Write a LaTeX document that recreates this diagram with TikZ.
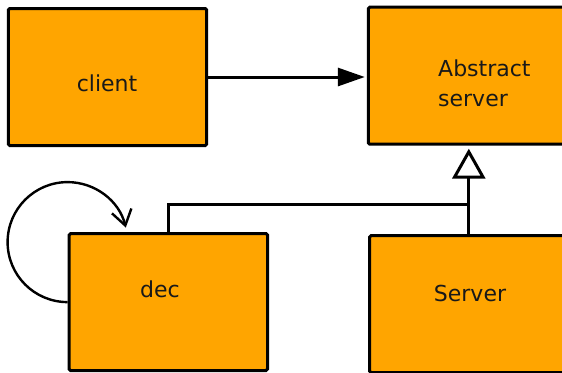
\documentclass[tikz,border=0pt]{standalone}
\usepackage{fontspec}
\setmainfont{DejaVu Sans}
\usetikzlibrary{arrows.meta}
\definecolor{boxfill}{RGB}{255,165,0}
\begin{document}
\begin{tikzpicture}[x=1bp, y=-1bp,
  box/.style={draw=black, fill=boxfill, line width=3bp, rounded corners=1.5bp,
    minimum width=198.4bp, minimum height=137bp, inner sep=0pt},
  lbl/.style={font=\fontsize{22bp}{30bp}\selectfont, inner sep=0pt, anchor=base,
    text=black!90},
  conn/.style={line width=3bp},
]
\clip (0,0) rectangle (562,372);

% class boxes
\node[box] (client)   at (107.5,77)   {};
\node[box] (abstract) at (467.5,75.7) {};
\node[box] (dec)      at (168.3,302.1) {};
\node[box] (server)   at (468.8,304.1) {};

% box labels
\node[lbl] (clientlbl) at (107,91) {client};
\node[lbl, anchor=base west] (abslbl1) at (438,76) {Abstract};
\node[lbl, anchor=base west] (abslbl2) at (438,106) {server};
\node[lbl] (declbl) at (160,297) {dec};
\node[lbl] (serverlbl) at (470,301) {Server};

% association
\draw[conn, -{Triangle[length=27bp, width=18bp]}, shorten >=2bp]
  (client.east) -- (client.east -| abstract.west);

% generalisation
\coordinate (branch) at (server.north |- 0,204.5);
\draw[conn, -{Triangle[length=30bp, width=33bp, fill=white]}, shorten >=3bp]
  (server.north) -- (server.north |- abstract.south);
\draw[conn, line width=2.6bp] (dec.north) |- (branch);

% self reference
\draw[line width=2.4bp, -{Straight Barb[length=15bp, width=20bp]}]
  (dec.west) arc[start angle=-90, end angle=-346, radius=60bp];
\end{tikzpicture}
\end{document}
